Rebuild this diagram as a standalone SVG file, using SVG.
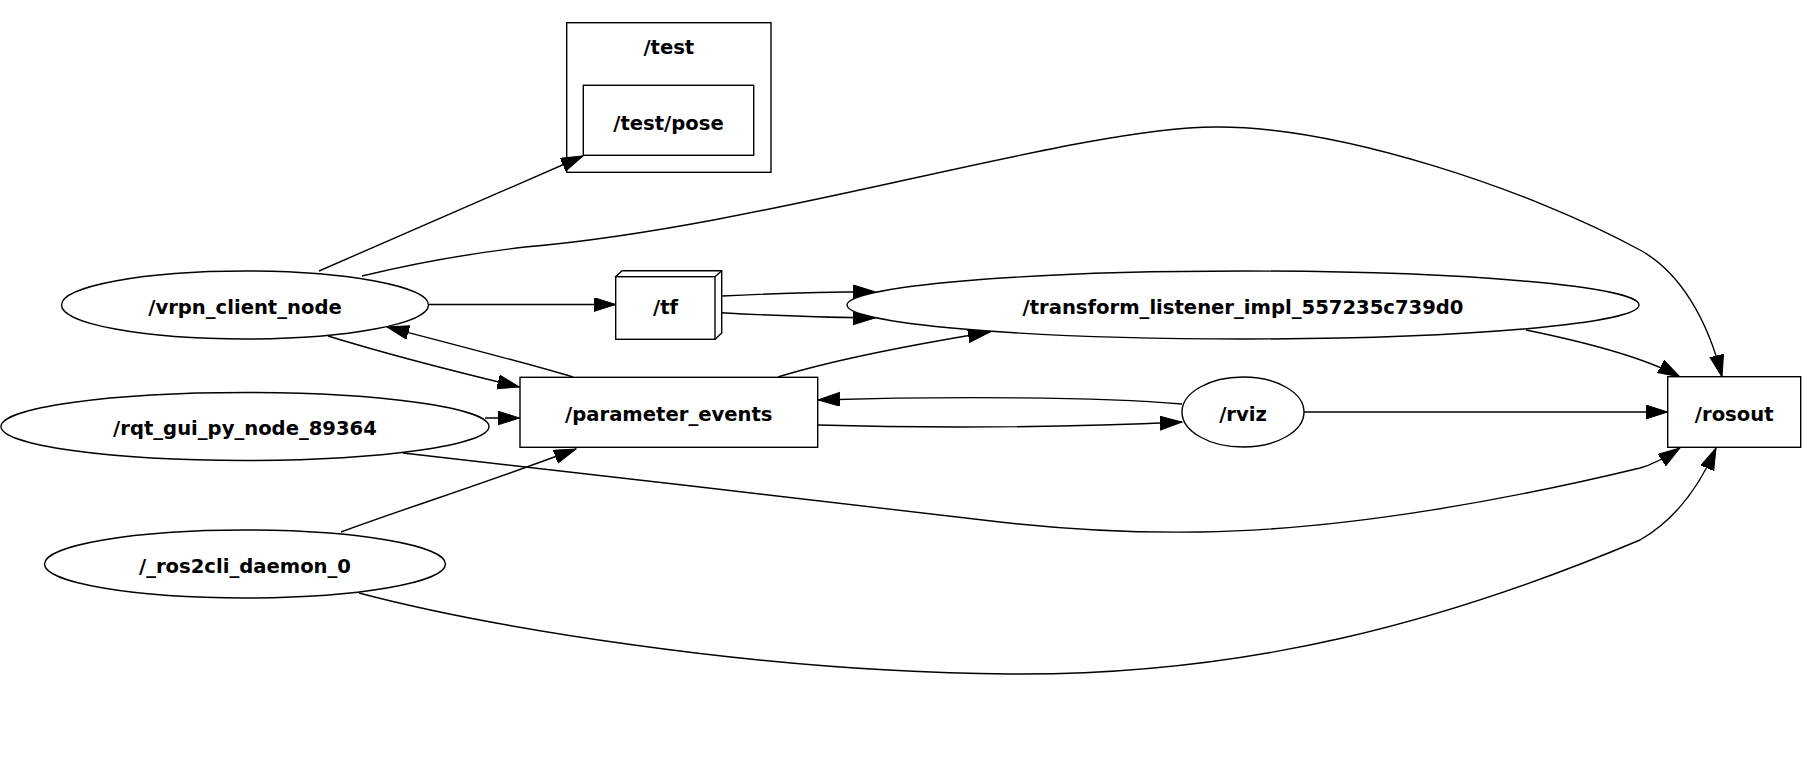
<svg xmlns="http://www.w3.org/2000/svg" width="1802" height="764" viewBox="0 0 1802 764">
<style>
.n{fill:#fff;stroke:#000;stroke-width:1.4}
.t{font-family:"DejaVu Sans","Liberation Sans",sans-serif;font-weight:bold;font-size:19.6px;text-anchor:middle;fill:#000}
.e{fill:none;stroke:#000;stroke-width:1.4;marker-end:url(#ah)}
</style>
<defs>
<marker id="ah" markerUnits="userSpaceOnUse" markerWidth="24" markerHeight="16" refX="22" refY="7" orient="auto" viewBox="0 0 24 16">
<path d="M0,0 L22,7 L0,14 z" fill="#000" stroke="#000" stroke-width="1"/>
</marker>
</defs>
<rect width="1802" height="764" fill="#fff"/>
<g id="cluster_test">
<rect class="n" x="566.7" y="22.7" width="204.3" height="149.6"/>
<text class="t" x="668.8" y="54">/test</text>
</g>
<g id="edges">
<path class="e" d="M319,271 L583,156"/>
<path class="e" d="M429,304.5 L615.7,304.5"/>
<path class="e" d="M328,336 C380,352 440,368 519.5,387"/>
<path class="e" d="M573,377 C530,364 460,346 387,327"/>
<path class="e" d="M485,418 L519.5,418"/>
<path class="e" d="M341,532 C400,510 480,485 576,449"/>
<path class="e" d="M403,453 C560,470 850,505 1000,522 C1070,530 1130,533 1200,532 C1350,530 1520,497 1640,468 C1655,464 1668,456 1680,448"/>
<path class="e" d="M359,593 C480,625 750,672 1009,674 C1250,676 1450,620 1640,540 C1675,520 1700,485 1716,448"/>
<path class="e" d="M362,276 C420,262 465,254 525,247 C770,226 1070,128 1215,127 C1340,126 1530,190 1640,250 C1680,272 1708,320 1722,377"/>
<path class="e" d="M721.7,296 C780,293 830,292 875,291.7"/>
<path class="e" d="M721.7,312.7 C780,316 830,317.5 875,318"/>
<path class="e" d="M778,377 C820,364 880,350 990,332"/>
<path class="e" d="M1526,330 C1575,340 1640,355 1680,377"/>
<path class="e" d="M1182,404 C1100,397 950,396 818,400"/>
<path class="e" d="M818,425 C920,428 1060,428 1182,422"/>
<path class="e" d="M1304,412 L1667.7,412"/>
</g>
<g id="test_pose">
<rect class="n" x="583.3" y="85.3" width="170.4" height="70"/>
<text class="t" x="668.5" y="130">/test/pose</text>
</g>
<g id="vrpn_client_node">
<ellipse class="n" cx="245" cy="305" rx="183.5" ry="34"/>
<text class="t" x="245" y="313.5">/vrpn_client_node</text>
</g>
<g id="rqt_gui_py_node_89364">
<ellipse class="n" cx="245" cy="426.5" rx="244" ry="34"/>
<text class="t" x="245" y="435">/rqt_gui_py_node_89364</text>
</g>
<g id="ros2cli_daemon_0">
<ellipse class="n" cx="245" cy="564" rx="200.5" ry="34"/>
<text class="t" x="245" y="572.5">/_ros2cli_daemon_0</text>
</g>
<g id="tf">
<path class="n" d="M615.7,276.7 L622,270.7 L721.7,270.7 L721.7,333 L715,339.3 Z"/>
<rect class="n" x="615.7" y="276.7" width="99.3" height="62.6"/>
<line x1="715" y1="276.7" x2="721.7" y2="270.7" stroke="#000" stroke-width="1.4"/>
<text class="t" x="665.5" y="313.5">/tf</text>
</g>
<g id="parameter_events">
<rect class="n" x="520" y="377.3" width="297.7" height="70"/>
<text class="t" x="668.8" y="420.8">/parameter_events</text>
</g>
<g id="transform_listener_impl_557235c739d0">
<ellipse class="n" cx="1243" cy="305" rx="396" ry="34"/>
<text class="t" x="1243" y="313.5">/transform_listener_impl_557235c739d0</text>
</g>
<g id="rviz">
<ellipse class="n" cx="1243" cy="412" rx="61" ry="35"/>
<text class="t" x="1243" y="420.5">/rviz</text>
</g>
<g id="rosout">
<rect class="n" x="1667.7" y="376.7" width="133" height="70.6"/>
<text class="t" x="1734.2" y="420.5">/rosout</text>
</g>
</svg>
